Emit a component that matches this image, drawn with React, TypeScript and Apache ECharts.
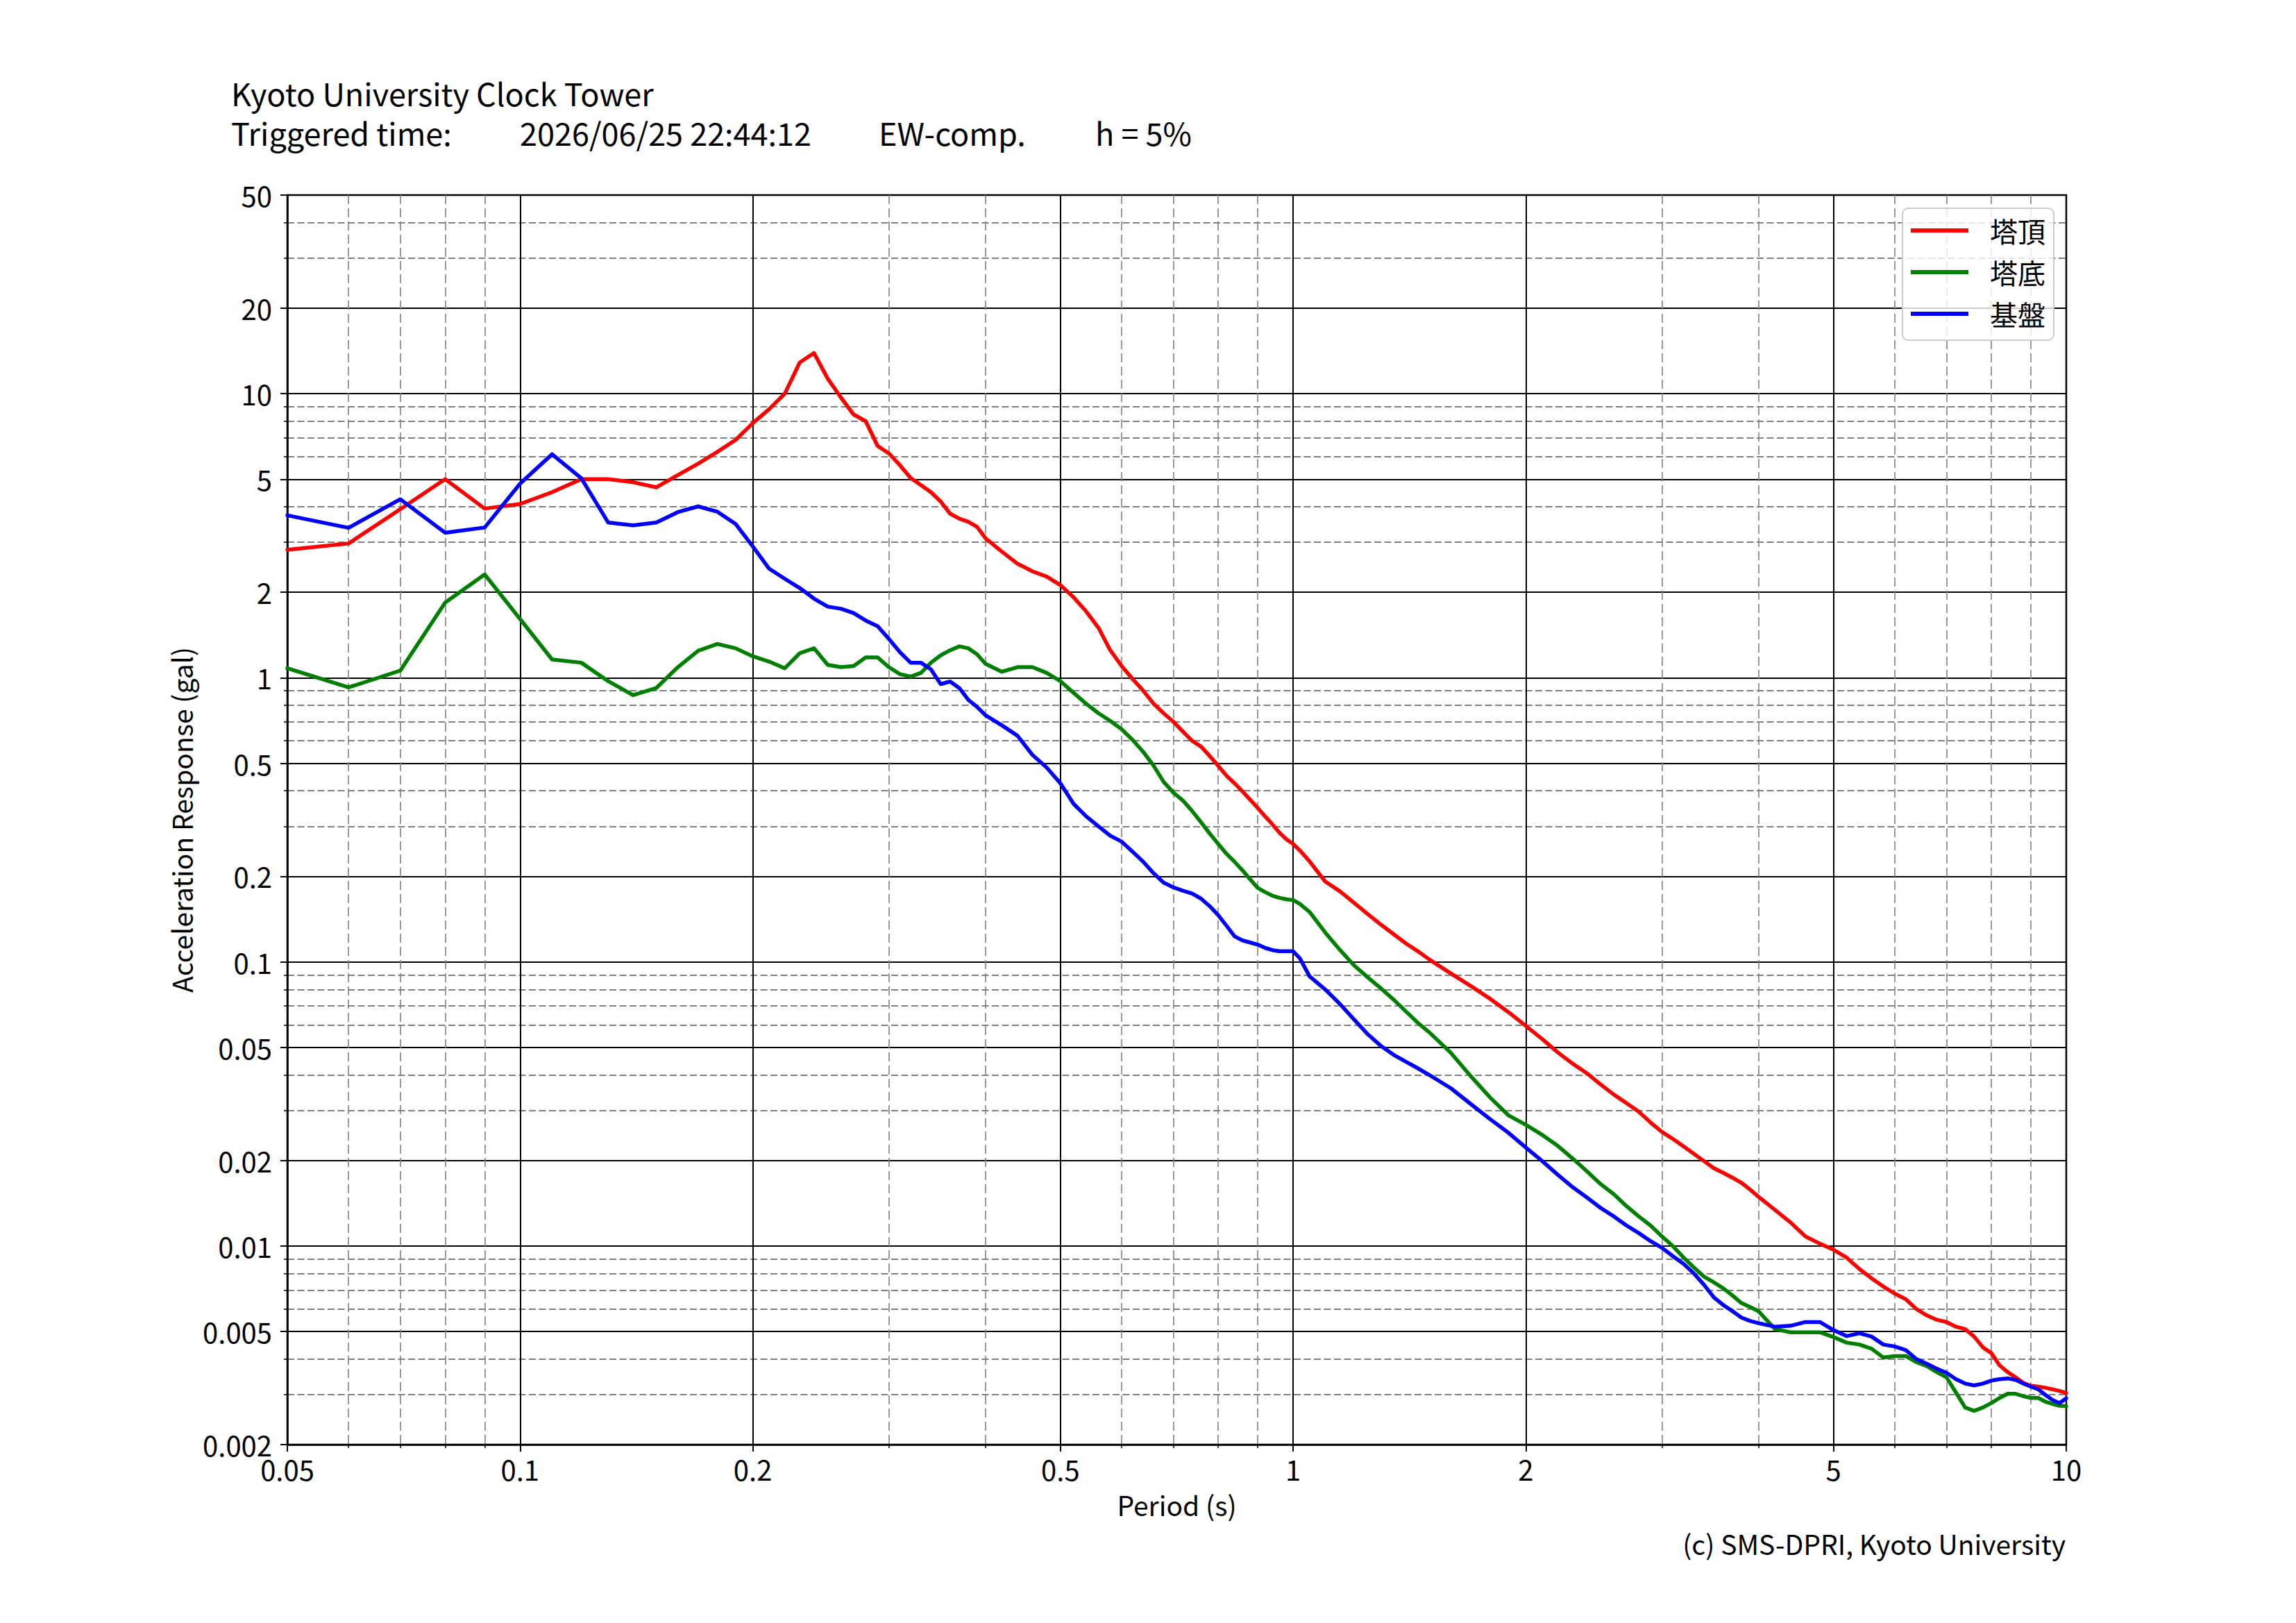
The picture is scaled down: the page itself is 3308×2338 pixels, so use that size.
import React, { useEffect, useRef } from "react";
import * as echarts from "echarts";

const FONT = "'Noto Sans CJK JP', 'Noto Sans', sans-serif";

const titleLine1 = "Kyoto University Clock Tower";
const titleParts = ["Triggered time:", "2026/06/25 22:44:12", "EW-comp.", "h = 5%"];
const copyright = "(c) SMS-DPRI, Kyoto University";
const seriesNames = ["塔頂", "塔底", "基盤"];
const seriesColors = ["#ff0000", "#008000", "#0000ff"];

const xMajor = [0.05, 0.1, 0.2, 0.5, 1, 2, 5, 10];
const xMinor = [0.06, 0.07, 0.08, 0.09, 0.3, 0.4, 0.6, 0.7, 0.8, 0.9, 3, 4, 6, 7, 8, 9];
const yMajor = [0.002, 0.005, 0.01, 0.02, 0.05, 0.1, 0.2, 0.5, 1, 2, 5, 10, 20, 50];
const yMinor = [
  0.003, 0.004, 0.006, 0.007, 0.008, 0.009,
  0.03, 0.04, 0.06, 0.07, 0.08, 0.09,
  0.3, 0.4, 0.6, 0.7, 0.8, 0.9,
  3, 4, 6, 7, 8, 9,
  30, 40,
];

const periods = [
  0.05, 0.06, 0.07, 0.08, 0.09, 0.10, 0.11, 0.12, 0.13, 0.14,
  0.15, 0.16, 0.17, 0.18, 0.19, 0.20, 0.21, 0.22, 0.23, 0.24,
  0.25, 0.26, 0.27, 0.28, 0.29, 0.30, 0.31, 0.32, 0.33, 0.34,
  0.35, 0.36, 0.37, 0.38, 0.39, 0.40, 0.42, 0.44, 0.46, 0.48,
  0.50, 0.52, 0.54, 0.56, 0.58, 0.60, 0.62, 0.64, 0.66, 0.68,
  0.70, 0.72, 0.74, 0.76, 0.78, 0.80, 0.82, 0.84, 0.86, 0.88,
  0.90, 0.92, 0.94, 0.96, 0.98, 1.00, 1.02, 1.05, 1.10, 1.15,
  1.20, 1.25, 1.30, 1.35, 1.40, 1.45, 1.50, 1.60, 1.70, 1.80,
  1.90, 2.0, 2.1, 2.2, 2.3, 2.4, 2.5, 2.6, 2.7, 2.8,
  2.9, 3.0, 3.1, 3.2, 3.3, 3.4, 3.5, 3.6, 3.7, 3.8,
  3.9, 4.0, 4.2, 4.4, 4.6, 4.8, 5.0, 5.2, 5.4, 5.6,
  5.8, 6.0, 6.2, 6.4, 6.6, 6.8, 7.0, 7.2, 7.4, 7.6,
  7.8, 8.0, 8.2, 8.4, 8.6, 8.8, 9.0, 9.2, 9.4, 9.6,
  9.8, 10.0,
];

const towerTop = [
  2.82, 2.97, 3.92, 5.0, 3.94, 4.09, 4.5, 5.0, 5.0, 4.88,
  4.68, 5.17, 5.67, 6.24, 6.87, 7.87, 8.82, 10.0, 12.87, 13.9,
  11.3, 9.7, 8.45, 8.0, 6.55, 6.16, 5.6, 5.05, 4.77, 4.5,
  4.17, 3.78, 3.63, 3.54, 3.4, 3.1, 2.78, 2.52, 2.37, 2.27,
  2.12, 1.92, 1.71, 1.5, 1.25, 1.1, 0.99, 0.9, 0.81, 0.75,
  0.7, 0.647, 0.6, 0.573, 0.53, 0.49, 0.452, 0.425, 0.398, 0.372,
  0.348, 0.325, 0.305, 0.285, 0.27, 0.26, 0.247, 0.226, 0.192, 0.177,
  0.161, 0.147, 0.135, 0.125, 0.116, 0.109, 0.102, 0.091, 0.082, 0.074,
  0.0665, 0.0595, 0.0535, 0.048, 0.0438, 0.0405, 0.037, 0.0341, 0.0318, 0.0297,
  0.0272, 0.0252, 0.0238, 0.0224, 0.0211, 0.0199, 0.0188, 0.0181, 0.0174, 0.0167,
  0.0158, 0.0149, 0.0134, 0.0121, 0.0108, 0.0102, 0.0097, 0.0091, 0.0083, 0.0077,
  0.0072, 0.0068, 0.0065, 0.006, 0.0057, 0.0055, 0.0054, 0.0052, 0.0051, 0.0048,
  0.0044, 0.0042, 0.0038, 0.0036, 0.00345, 0.0033, 0.00322, 0.0032, 0.00317, 0.00313,
  0.00309, 0.00304,
];

const towerBase = [
  1.08, 0.925, 1.06, 1.84, 2.31, 1.61, 1.16, 1.13, 0.973, 0.869,
  0.92, 1.09, 1.245, 1.316, 1.27, 1.19, 1.14, 1.08, 1.22, 1.27,
  1.11, 1.09, 1.1, 1.18, 1.18, 1.09, 1.03, 1.01, 1.04, 1.13,
  1.2, 1.25, 1.29, 1.27, 1.21, 1.12, 1.05, 1.09, 1.09, 1.04,
  0.973, 0.885, 0.81, 0.75, 0.705, 0.659, 0.604, 0.548, 0.49, 0.43,
  0.394, 0.37, 0.34, 0.31, 0.283, 0.26, 0.24, 0.225, 0.21, 0.195,
  0.182, 0.176, 0.171, 0.168, 0.166, 0.165, 0.16, 0.15, 0.127, 0.11,
  0.097, 0.088, 0.0805, 0.0735, 0.0668, 0.061, 0.0565, 0.0478, 0.0394, 0.0332,
  0.0288, 0.0267, 0.0246, 0.0225, 0.0203, 0.0183, 0.0165, 0.0152, 0.0138, 0.0127,
  0.0118, 0.0108, 0.00998, 0.0091, 0.0084, 0.0078, 0.00745, 0.0071, 0.0067, 0.0063,
  0.0061, 0.00589, 0.0051, 0.00497, 0.00497, 0.00497, 0.00478, 0.00457, 0.0045, 0.00435,
  0.00405, 0.0041, 0.0041, 0.0039, 0.00378, 0.0036, 0.00345, 0.00305, 0.0027, 0.00263,
  0.0027, 0.0028, 0.00292, 0.00302, 0.00302, 0.00296, 0.00292, 0.00292, 0.00283, 0.00278,
  0.00274, 0.00273,
];

const bedrock = [
  3.73, 3.37, 4.25, 3.24, 3.38, 4.82, 6.12, 5.04, 3.52, 3.44,
  3.52, 3.83, 4.01, 3.84, 3.48, 2.9, 2.42, 2.23, 2.07, 1.9,
  1.78, 1.75, 1.69, 1.59, 1.52, 1.37, 1.23, 1.13, 1.13, 1.07,
  0.95, 0.97, 0.92, 0.836, 0.79, 0.738, 0.68, 0.625, 0.535, 0.483,
  0.425, 0.36, 0.325, 0.3, 0.278, 0.265, 0.244, 0.225, 0.205, 0.19,
  0.183, 0.178, 0.174, 0.167, 0.157, 0.146, 0.134, 0.123, 0.119, 0.117,
  0.115, 0.112, 0.11, 0.109, 0.109, 0.109, 0.103, 0.089, 0.08, 0.071,
  0.0625, 0.0555, 0.0505, 0.047, 0.0445, 0.0422, 0.04, 0.0359, 0.0315, 0.0279,
  0.025, 0.0222, 0.0199, 0.0178, 0.0161, 0.0148, 0.0136, 0.0127, 0.0118, 0.0111,
  0.0104, 0.00985, 0.0092, 0.00865, 0.008, 0.0073, 0.0066, 0.0062, 0.0059, 0.0056,
  0.00545, 0.00535, 0.0052, 0.00524, 0.0054, 0.0054, 0.00506, 0.00482, 0.00493, 0.0048,
  0.0045, 0.00443, 0.0043, 0.004, 0.00385, 0.0037, 0.00358, 0.0034, 0.00328, 0.00323,
  0.00328, 0.00336, 0.0034, 0.00342, 0.00338, 0.00328, 0.0032, 0.00313, 0.00299, 0.00287,
  0.0028, 0.00291,
];

const fmt = (v: number) => String(Number(Number(v).toPrecision(6)));

const TITLE_SIZE = 45;
const TITLE_LINE_HEIGHT = 57;
const LABEL_SIZE = 39;

export default function App() {
  const ref = useRef<HTMLDivElement>(null);

  useEffect(() => {
    if (!ref.current) return;
    const chart = echarts.init(ref.current, null, { renderer: "svg" });
    const valueSets = [towerTop, towerBase, bedrock];

    const titleFont = `${TITLE_SIZE}px ${FONT}`;
    const line1Center = 133;
    const line2Center = line1Center + TITLE_LINE_HEIGHT;
    const blockTop = line1Center - TITLE_LINE_HEIGHT / 2;
    const line2Top = line2Center - TITLE_SIZE / 2;

    const option: any = {
      animation: false,
      backgroundColor: "#ffffff",
      textStyle: { fontFamily: FONT },
      grid: {
        left: 414,
        top: 281,
        right: 331,
        bottom: 257,
        show: true,
        borderColor: "#000000",
        borderWidth: 2.5,
        backgroundColor: "transparent",
        containLabel: false,
      },
      legend: {
        orient: "vertical",
        left: 2741,
        top: 300,
        padding: [12, 12, 18, 12],
        itemGap: 20,
        itemWidth: 83,
        itemHeight: 6,
        icon: "rect",
        backgroundColor: "rgba(255,255,255,0.8)",
        borderColor: "#cccccc",
        borderWidth: 2,
        borderRadius: 8,
        textStyle: {
          fontFamily: FONT,
          fontSize: 40,
          color: "#000000",
          padding: [0, 0, 0, 26],
        },
        data: seriesNames,
      },
      xAxis: [
        {
          type: "log",
          logBase: 10,
          min: 0.05,
          max: 10,
          position: "bottom",
          name: "Period (s)",
          nameLocation: "middle",
          nameGap: 66,
          nameTextStyle: { fontFamily: FONT, fontSize: LABEL_SIZE, color: "#000000" },
          axisLine: { show: true, lineStyle: { color: "#000000", width: 2.5 } },
          axisTick: {
            show: true,
            customValues: xMajor,
            length: 10,
            inside: false,
            lineStyle: { color: "#000000", width: 2 },
          },
          axisLabel: {
            show: true,
            customValues: xMajor,
            fontFamily: FONT,
            fontSize: 40,
            color: "#000000",
            margin: 15,
            formatter: fmt,
          },
          splitLine: { show: true, lineStyle: { color: "#000000", width: 2, type: "solid" } },
        },
        {
          type: "log",
          logBase: 10,
          min: 0.05,
          max: 10,
          position: "bottom",
          axisLine: { show: false },
          axisTick: {
            show: true,
            customValues: xMinor,
            length: 5,
            inside: false,
            lineStyle: { color: "#000000", width: 1.5 },
          },
          axisLabel: { show: false },
          splitLine: { show: true, lineStyle: { color: "#808080", width: 1.6, type: [13, 6] } },
        },
      ],
      yAxis: [
        {
          type: "log",
          logBase: 10,
          min: 0.002,
          max: 50,
          position: "left",
          name: "Acceleration Response (gal)",
          nameLocation: "middle",
          nameGap: 134,
          nameRotate: 90,
          nameTextStyle: { fontFamily: FONT, fontSize: LABEL_SIZE, color: "#000000" },
          axisLine: { show: true, lineStyle: { color: "#000000", width: 2.5 } },
          axisTick: {
            show: true,
            customValues: yMajor,
            length: 10,
            inside: false,
            lineStyle: { color: "#000000", width: 2 },
          },
          axisLabel: {
            show: true,
            customValues: yMajor,
            fontFamily: FONT,
            fontSize: 40,
            color: "#000000",
            margin: 22,
            formatter: fmt,
          },
          splitLine: { show: true, lineStyle: { color: "#000000", width: 2, type: "solid" } },
        },
        {
          type: "log",
          logBase: 10,
          min: 0.002,
          max: 50,
          position: "left",
          axisLine: { show: false },
          axisTick: {
            show: true,
            customValues: yMinor,
            length: 5,
            inside: false,
            lineStyle: { color: "#000000", width: 1.5 },
          },
          axisLabel: { show: false },
          splitLine: { show: true, lineStyle: { color: "#808080", width: 2.2, type: [10, 4.5] } },
        },
      ],
      series: seriesNames.map((name, i) => ({
        name,
        type: "line",
        xAxisIndex: 0,
        yAxisIndex: 0,
        data: periods.map((p, j) => [p, valueSets[i][j]]),
        showSymbol: false,
        symbol: "none",
        smooth: false,
        clip: true,
        color: seriesColors[i],
        lineStyle: { color: seriesColors[i], width: 5.5, cap: "round", join: "round" },
        z: 3,
      })),
      graphic: [
        {
          type: "text",
          left: 333,
          top: blockTop,
          style: {
            text: titleLine1 + "\n" + titleParts[0],
            font: titleFont,
            lineHeight: TITLE_LINE_HEIGHT,
            fill: "#000000",
          },
        },
        {
          type: "text",
          left: 749,
          top: line2Top,
          style: { text: titleParts[1], font: titleFont, fill: "#000000" },
        },
        {
          type: "text",
          left: 1266,
          top: line2Top,
          style: { text: titleParts[2], font: titleFont, fill: "#000000" },
        },
        {
          type: "text",
          left: 1578,
          top: line2Top,
          style: { text: titleParts[3], font: titleFont, fill: "#000000" },
        },
        {
          type: "text",
          right: 3308 - 2976,
          top: 2223 - LABEL_SIZE / 2,
          style: { text: copyright, font: `${LABEL_SIZE}px ${FONT}`, fill: "#000000" },
        },
      ],
    };

    chart.setOption(option);
    return () => chart.dispose();
  }, []);

  return (
    <div
      ref={ref}
      style={{ position: "fixed", left: 0, top: 0, width: "3308px", height: "2338px", background: "#ffffff" }}
    />
  );
}
